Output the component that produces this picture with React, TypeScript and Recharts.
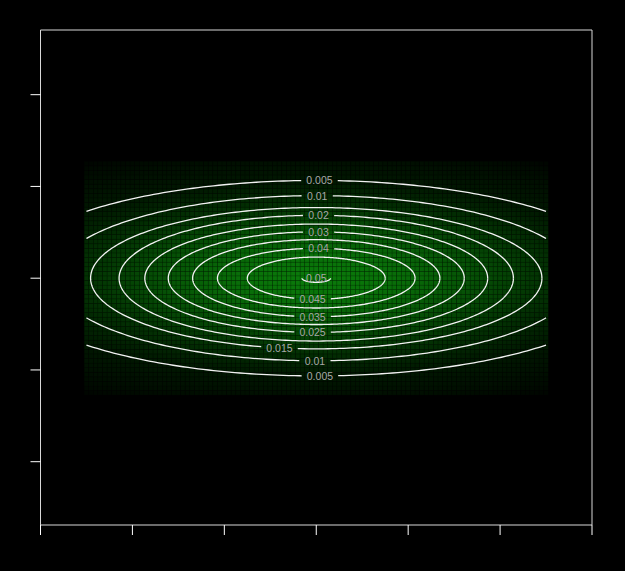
import React from 'react';
import {
  ComposedChart, Scatter, XAxis, YAxis, ReferenceArea,
} from 'recharts';

// axis ticks (labels are not shown in the original)
const X_TICKS = [-6, -4, -2, 0, 2, 4, 6];
const Y_TICKS = [-4, -2, 0, 2, 4];
const X_DOMAIN = [-6, 6];
const Y_DOMAIN = [-5.38, 5.41];

// contour levels, inner to outer, with their half width / half height
const LEVELS = [0.05, 0.045, 0.04, 0.035, 0.03, 0.025, 0.02, 0.015, 0.01, 0.005];
const HALF_WIDTH = [0.31, 1.5, 2.15, 2.69, 3.22, 3.73, 4.29, 4.91, 5.7, 6.86];
const HALF_HEIGHT = [0.09, 0.46, 0.65, 0.84, 1.01, 1.18, 1.37, 1.54, 1.8, 2.13];
const PEAK = 0.0503;

// the density grid
const GRID_X = [-5, 5];
const GRID_Y = [-2.5, 2.5];
const GRID_STEP = 0.1;

// where the contour labels sit
const LABELS = [
  { level: 0.005, side: 'top', x: 0.07 },
  { level: 0.005, side: 'bottom', x: 0.08 },
  { level: 0.01, side: 'top', x: 0.02 },
  { level: 0.01, side: 'bottom', x: -0.03 },
  { level: 0.015, side: 'bottom', x: -0.8 },
  { level: 0.02, side: 'top', x: 0.05 },
  { level: 0.025, side: 'bottom', x: -0.08 },
  { level: 0.03, side: 'top', x: 0.05 },
  { level: 0.035, side: 'bottom', x: -0.08 },
  { level: 0.04, side: 'top', x: 0.05 },
  { level: 0.045, side: 'bottom', x: -0.08 },
  { level: 0.05, side: 'center', x: 0 },
];

const W = 625;
const H = 571;
const MARGIN = { top: 30, right: 33, left: 20.5, bottom: 26 };
const PLOT_W = W - MARGIN.left - 20 - MARGIN.right;
const PLOT_H = H - MARGIN.top - MARGIN.bottom - 20;
const PX_X = PLOT_W / (X_DOMAIN[1] - X_DOMAIN[0]);
const PX_Y = PLOT_H / (Y_DOMAIN[1] - Y_DOMAIN[0]);
const TILE_W = GRID_STEP * PX_X;
const TILE_H = GRID_STEP * PX_Y;

const fmt = (v: number) => String(+v.toFixed(3));

// value of a cell, interpolated between the contours it sits between
const cellValue = (x: number, y: number) => {
  const d = Math.hypot(x, y);
  if (d === 0) return PEAK;
  const ux = x / d;
  const uy = y / d;
  let prevR = 0;
  let prevV = PEAK;
  for (let i = 0; i < LEVELS.length; i++) {
    const r = 1 / Math.sqrt((ux / HALF_WIDTH[i]) ** 2 + (uy / HALF_HEIGHT[i]) ** 2);
    if (d <= r) return prevV + (LEVELS[i] - prevV) * ((d - prevR) / (r - prevR));
    prevR = r;
    prevV = LEVELS[i];
  }
  const fade = 1 - (d - prevR) / (0.45 * prevR);
  return Math.max(0, prevV * fade);
};

const cellColor = (v: number) => {
  const t = Math.min(1, v / PEAK);
  const g = Math.round(122 * Math.pow(t, 0.72));
  const rb = Math.round(10 * t);
  return `rgb(${rb},${g},${rb})`;
};

const cells: { x: number; y: number; v: number }[] = [];
const nx = Math.round((GRID_X[1] - GRID_X[0]) / GRID_STEP);
const ny = Math.round((GRID_Y[1] - GRID_Y[0]) / GRID_STEP);
for (let j = 0; j <= ny; j++) {
  for (let i = 0; i <= nx; i++) {
    const x = GRID_X[0] + i * GRID_STEP;
    const y = GRID_Y[0] + j * GRID_STEP;
    cells.push({ x, y, v: cellValue(x, y) });
  }
}

const gapHalf = (level: number) => (fmt(level).length * 5.3) / 2 / PX_X + 5 / PX_X;

// each contour is split into the pieces that are on the grid and not under a label
type Pt = { x: number; y: number };
const contourSegments: { key: string; pts: Pt[] }[] = [];
LEVELS.forEach((level, k) => {
  const a = HALF_WIDTH[k];
  const b = HALF_HEIGHT[k];
  const labels = LABELS.filter(l => l.level === level);
  const angles: number[] = [];
  const N = 360;
  for (let i = 0; i <= N; i++) angles.push((i / N) * 2 * Math.PI);
  const addX = (px: number, top: boolean) => {
    if (Math.abs(px) > a) return;
    const t = Math.acos(px / a);
    angles.push(top ? t : 2 * Math.PI - t);
  };
  if (a > GRID_X[1]) {
    [GRID_X[0], GRID_X[1]].forEach(px => { addX(px, true); addX(px, false); });
  }
  labels.forEach(l => {
    const g = gapHalf(level);
    const top = l.side !== 'bottom';
    addX(l.x - g, top);
    addX(l.x + g, top);
  });
  angles.sort((p, q) => p - q);
  let current: Pt[] = [];
  const flush = () => {
    if (current.length > 1) contourSegments.push({ key: `${level}-${contourSegments.length}`, pts: current });
    current = [];
  };
  angles.forEach(t => {
    const px = a * Math.cos(t);
    const py = b * Math.sin(t);
    let hidden = px < GRID_X[0] - 1e-9 || px > GRID_X[1] + 1e-9;
    labels.forEach(l => {
      const g = gapHalf(level) - 1e-9;
      const onSide = l.side === 'bottom' ? py < -1e-9 : py > 1e-9;
      if (onSide && Math.abs(px - l.x) < g) hidden = true;
    });
    if (hidden) flush();
    else current.push({ x: px, y: py });
  });
  flush();
});

const labelPoints = LABELS.map(l => {
  const k = LEVELS.indexOf(l.level);
  const a = HALF_WIDTH[k];
  const b = HALF_HEIGHT[k];
  let y = 0;
  if (l.side !== 'center') {
    const yy = b * Math.sqrt(Math.max(0, 1 - (l.x / a) ** 2));
    y = l.side === 'top' ? yy : -yy;
  }
  return { x: l.x, y, text: fmt(l.level) };
});

const Tile = (props: any) => {
  const { cx, cy, payload } = props;
  return (
    <rect
      x={cx - TILE_W / 2}
      y={cy - TILE_H / 2}
      width={TILE_W}
      height={TILE_H}
      fill={cellColor(payload.v)}
      stroke="rgba(0,0,0,0.22)"
      strokeWidth={0.6}
    />
  );
};

const NoDot = () => <g />;

const ContourLabel = (props: any) => {
  const { cx, cy, payload } = props;
  return (
    <text
      x={cx}
      y={cy}
      textAnchor="middle"
      dominantBaseline="central"
      fill="#a8a8a8"
      fontSize={10.5}
      fontFamily="'Liberation Sans', Arial, sans-serif"
    >
      {payload.text}
    </text>
  );
};

const App: React.FC = () => {
  return (
    <div style={{ position: 'fixed', left: 0, top: 0, width: '100vw', height: '100vh', background: '#000' }}>
      <div style={{ position: 'absolute', left: 0, top: 0 }}>
        <ComposedChart width={W} height={H} margin={MARGIN}>
          <XAxis
            type="number"
            dataKey="x"
            domain={X_DOMAIN}
            ticks={X_TICKS}
            allowDataOverflow
            height={20}
            axisLine={false}
            tickLine={{ stroke: '#fff' }}
            tickSize={10}
            tickFormatter={() => ''}
          />
          <YAxis
            type="number"
            dataKey="y"
            domain={Y_DOMAIN}
            ticks={Y_TICKS}
            allowDataOverflow
            width={20}
            axisLine={false}
            tickLine={{ stroke: '#fff' }}
            tickSize={10}
            tickFormatter={() => ''}
          />
          <Scatter data={cells} shape={Tile} isAnimationActive={false} />
          {contourSegments.map(s => (
            <Scatter
              key={s.key}
              data={s.pts}
              shape={NoDot}
              line={{ stroke: '#f2f2f2', strokeWidth: 1.3 }}
              lineType="joint"
              isAnimationActive={false}
            />
          ))}
          <Scatter data={labelPoints} shape={ContourLabel} isAnimationActive={false} />
          <ReferenceArea
            x1={X_DOMAIN[0]}
            x2={X_DOMAIN[1]}
            y1={Y_DOMAIN[0]}
            y2={Y_DOMAIN[1]}
            fill="none"
            stroke="#d8d8d8"
            strokeWidth={1}
          />
        </ComposedChart>
      </div>
    </div>
  );
};

export default App;
